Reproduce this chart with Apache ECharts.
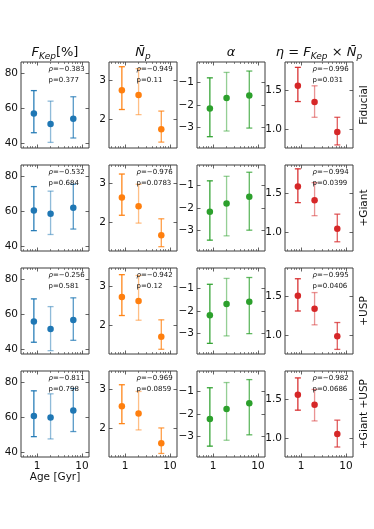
<!DOCTYPE html>
<html><head><meta charset="utf-8">
<script src="https://cdn.jsdelivr.net/npm/echarts@6/dist/echarts.min.js"></script>
<style>html,body{margin:0;padding:0;background:#fff}#c{width:374px;height:529px}</style>
</head><body><div id="c"></div>
<script>
// ---------------- DATA ----------------
const ages = [0.85, 2.0, 6.4];           // Age [Gyr]
const rowNames = ['Fiducial', '+Giant', '+USP', '+Giant +USP'];
const errAlpha = [0.95, 0.5, 0.75];

// Fiducial
const fkepFiducial   = [57, 51, 54];
const fkepFiducialErr = [[46, 70], [40.5, 64], [43, 66.5]];
const npFiducial     = [2.75, 2.63, 1.76];
const npFiducialErr  = [[2.26, 3.35], [2.13, 3.3], [1.43, 2.22]];
const alphaFiducial  = [-2.16, -1.69, -1.58];
const alphaFiducialErr = [[-3.4, -0.8], [-3.15, -0.56], [-3.02, -0.5]];
const etaFiducial    = [1.56, 1.35, 0.96];
const etaFiducialErr = [[1.355, 1.8], [1.15, 1.56], [0.79, 1.15]];

// +Giant
const fkepGiant   = [60.4, 58.5, 62];
const fkepGiantErr = [[48.9, 74], [46.7, 71.4], [49.8, 75.3]];
const npGiant     = [2.64, 2.42, 1.68];
const npGiantErr  = [[2.19, 3.24], [1.99, 2.98], [1.39, 2.1]];
const alphaGiant  = [-2.17, -1.8, -1.5];
const alphaGiantErr = [[-3.42, -0.8], [-3.23, -0.6], [-2.98, -0.42]];
const etaGiant    = [1.59, 1.41, 1.04];
const etaGiantErr = [[1.38, 1.82], [1.21, 1.64], [0.87, 1.23]];

// +USP
const fkepUSP   = [55.8, 51.6, 56.7];
const fkepUSPErr = [[44, 68.7], [39.2, 64.3], [45.1, 69.3]];
const npUSP     = [2.73, 2.63, 1.72];
const npUSPErr  = [[2.26, 3.3], [2.14, 3.28], [1.4, 2.15]];
const alphaUSP  = [-2.19, -1.69, -1.59];
const alphaUSPErr = [[-3.43, -0.82], [-3.1, -0.56], [-3.0, -0.52]];
const etaUSP    = [1.51, 1.34, 0.98];
const etaUSPErr = [[1.31, 1.73], [1.13, 1.55], [0.81, 1.16]];

// +Giant +USP
const fkepGU   = [60.7, 59.8, 63.8];
const fkepGUErr = [[48.9, 75], [47.6, 73.3], [51.8, 76.3]];
const npGU     = [2.57, 2.39, 1.63];
const npGUErr  = [[2.13, 3.12], [1.97, 2.95], [1.37, 2.02]];
const alphaGU  = [-2.22, -1.78, -1.52];
const alphaGUErr = [[-3.42, -0.84], [-3.16, -0.61], [-2.92, -0.48]];
const etaGU    = [1.56, 1.43, 1.05];
const etaGUErr = [[1.36, 1.78], [1.22, 1.63], [0.88, 1.23]];

// Spearman rho and p-values (columns: F_Kep, N_p, alpha(none), eta)
const rhoFiducial = [-0.383, -0.949, null, -0.996];
const pFiducial   = [0.377, 0.11, null, 0.031];
const rhoGiant    = [-0.532, -0.976, null, -0.994];
const pGiant      = [0.684, 0.0783, null, 0.0399];
const rhoUSP      = [-0.256, -0.942, null, -0.995];
const pUSP        = [0.581, 0.12, null, 0.0406];
const rhoGU       = [-0.811, -0.969, null, -0.982];
const pGU         = [0.798, 0.0859, null, 0.0686];

// Axes
const xMin = 0.44, xMax = 14.3;
const xMajorTicks = [1, 10];
const xMinorTicks = [0.5, 0.6, 0.7, 0.8, 0.9, 2, 3, 4, 5, 6, 7, 8, 9];
const yMinByCol = [37.3, 1.28, -3.9, 0.75];
const yMaxByCol = [86.3, 3.47, -0.1, 1.87];
const yTicksByCol = [[40, 60, 80], [2, 3], [-3, -2, -1], [1.0, 1.5]];

// ---------------- BUILD ----------------
const values = [
  [fkepFiducial, npFiducial, alphaFiducial, etaFiducial],
  [fkepGiant, npGiant, alphaGiant, etaGiant],
  [fkepUSP, npUSP, alphaUSP, etaUSP],
  [fkepGU, npGU, alphaGU, etaGU]
];
const errs = [
  [fkepFiducialErr, npFiducialErr, alphaFiducialErr, etaFiducialErr],
  [fkepGiantErr, npGiantErr, alphaGiantErr, etaGiantErr],
  [fkepUSPErr, npUSPErr, alphaUSPErr, etaUSPErr],
  [fkepGUErr, npGUErr, alphaGUErr, etaGUErr]
];
const rhos = [rhoFiducial, rhoGiant, rhoUSP, rhoGU];
const ps = [pFiducial, pGiant, pUSP, pGU];

const colors = ['#1f77b4', '#ff7f0e', '#2ca02c', '#d62728'];
const L = [21, 109, 197, 285], T = [62, 165, 268, 371], W = 68, H = 86;
const FONT = 'DejaVu Sans';
const spine = '#3c3c3c';

const grids = [], xAxes = [], yAxes = [], series = [], graphics = [];

function fmtY(c, v) {
  let s = c === 3 ? v.toFixed(1) : String(v);
  return s.replace('-', '\u2212');
}

for (let r = 0; r < 4; r++) {
  for (let c = 0; c < 4; c++) {
    const gi = grids.length;
    grids.push({left: L[c], top: T[r], width: W, height: H, show: true,
      borderColor: spine, borderWidth: 1, backgroundColor: 'transparent',
      containLabel: false, outerBoundsMode: 'none'});
    const xi = xAxes.length;
    const xc = {type: 'log', logBase: 10, gridIndex: gi, min: xMin, max: xMax,
      axisLine: {show: false}, splitLine: {show: false}};
    xAxes.push(Object.assign({}, xc, {position: 'bottom',
      axisTick: {show: true, inside: true, length: 3.5, customValues: xMajorTicks, lineStyle: {color: spine, width: 0.8}},
      axisLabel: {show: r === 3, customValues: xMajorTicks, margin: 4, fontSize: 10.5, color: '#111', fontFamily: FONT,
        formatter: v => String(Math.round(v))}}));
    xAxes.push(Object.assign({}, xc, {position: 'bottom',
      axisTick: {show: true, inside: true, length: 2, customValues: xMinorTicks, lineStyle: {color: spine, width: 0.6}},
      axisLabel: {show: false}}));
    xAxes.push(Object.assign({}, xc, {position: 'top',
      axisTick: {show: true, inside: true, length: 3.5, customValues: xMajorTicks, lineStyle: {color: spine, width: 0.8}},
      axisLabel: {show: false}}));
    xAxes.push(Object.assign({}, xc, {position: 'top',
      axisTick: {show: true, inside: true, length: 2, customValues: xMinorTicks, lineStyle: {color: spine, width: 0.6}},
      axisLabel: {show: false}}));
    const yi = yAxes.length;
    const yc = {type: 'value', gridIndex: gi, min: yMinByCol[c], max: yMaxByCol[c],
      axisLine: {show: false}, splitLine: {show: false}};
    yAxes.push(Object.assign({}, yc, {position: 'left',
      axisTick: {show: true, inside: true, length: 3.5, customValues: yTicksByCol[c], lineStyle: {color: spine, width: 0.8}},
      axisLabel: {show: true, customValues: yTicksByCol[c], margin: 3, fontSize: 10.5, color: '#111', fontFamily: FONT,
        formatter: v => fmtY(c, v)}}));
    yAxes.push(Object.assign({}, yc, {position: 'right',
      axisTick: {show: true, inside: true, length: 3.5, customValues: yTicksByCol[c], lineStyle: {color: spine, width: 0.8}},
      axisLabel: {show: false}}));

    const v = values[r][c], e = errs[r][c], col = colors[c];
    series.push({type: 'custom', xAxisIndex: xi, yAxisIndex: yi, z: 2,
      data: ages.map((a, i) => [a, e[i][0], e[i][1], errAlpha[i]]),
      encode: {x: 0, y: [1, 2]},
      renderItem: function (params, api) {
        const x = api.value(0), lo = api.value(1), hi = api.value(2), al = api.value(3);
        const p1 = api.coord([x, lo]), p2 = api.coord([x, hi]);
        const cw = 3;
        const st = {stroke: col, lineWidth: 1.3, opacity: al};
        return {type: 'group', children: [
          {type: 'line', shape: {x1: p1[0], y1: p1[1], x2: p2[0], y2: p2[1]}, style: st},
          {type: 'line', shape: {x1: p1[0] - cw, y1: p1[1], x2: p1[0] + cw, y2: p1[1]}, style: st},
          {type: 'line', shape: {x1: p2[0] - cw, y1: p2[1], x2: p2[0] + cw, y2: p2[1]}, style: st}
        ]};
      }});
    series.push({type: 'scatter', xAxisIndex: xi, yAxisIndex: yi, z: 3,
      symbol: 'circle', symbolSize: 6.5, itemStyle: {color: col, opacity: 1},
      data: ages.map((a, i) => [a, v[i]])});

    if (rhos[r][c] !== null) {
      const rs = rhos[r][c].toFixed(3).replace('-', '\u2212');
      graphics.push({type: 'text', x: L[c] + 27.5, y: T[r] + 7, z: 10,
        style: {text: '{g|\u03C1}=' + rs, fontSize: 7, fontFamily: FONT, fill: '#111',
          verticalAlign: 'middle', align: 'left', rich: {g: {fontStyle: 'italic', fontSize: 7, fontFamily: FONT}}}});
      graphics.push({type: 'text', x: L[c] + 27.5, y: T[r] + 18, z: 10,
        style: {text: 'p=' + String(ps[r][c]), fontSize: 7, fontFamily: FONT, fill: '#111',
          verticalAlign: 'middle', align: 'left'}});
    }
  }
  graphics.push({type: 'text', x: 364, y: T[r] + H / 2, rotation: Math.PI / 2,
    style: {text: rowNames[r], fontSize: 10.5, fontFamily: FONT, fill: '#111', align: 'center', verticalAlign: 'middle'}});
}

// Column titles (rich text for sub/italics)
const titleRich = {
  i: {fontStyle: 'italic', fontSize: 13, fontFamily: FONT, fill: '#111', lineHeight: 16},
  n: {fontSize: 13, fontFamily: FONT, fill: '#111', lineHeight: 16},
  s: {fontStyle: 'italic', fontSize: 9, fontFamily: FONT, fill: '#111', lineHeight: 9, verticalAlign: 'bottom'}
};
const titles = [
  '{i|F}{s|Kep}{n|[%]}',
  '{i|N\u0304}{s|p}',
  '{i|\u03B1}',
  '{i|\u03B7}{n| = }{i|F}{s|Kep}{n| \u00D7 }{i|N\u0304}{s|p}'
];
for (let c = 0; c < 4; c++) {
  graphics.push({type: 'text', x: L[c] + W / 2, y: 53, z: 10,
    style: {text: titles[c], rich: titleRich, align: 'center', verticalAlign: 'middle', fontSize: 13, fontFamily: FONT}});
}
graphics.push({type: 'text', x: L[0] + W / 2, y: 477, z: 10,
  style: {text: 'Age [Gyr]', fontSize: 10.5, fontFamily: FONT, fill: '#111', align: 'center', verticalAlign: 'middle'}});

const chart = echarts.init(document.getElementById('c'), null, {renderer: 'canvas'});
chart.setOption({
  backgroundColor: '#fff',
  animation: false,
  grid: grids, xAxis: xAxes, yAxis: yAxes, series: series,
  graphic: {elements: graphics}
});
</script>
</body></html>
